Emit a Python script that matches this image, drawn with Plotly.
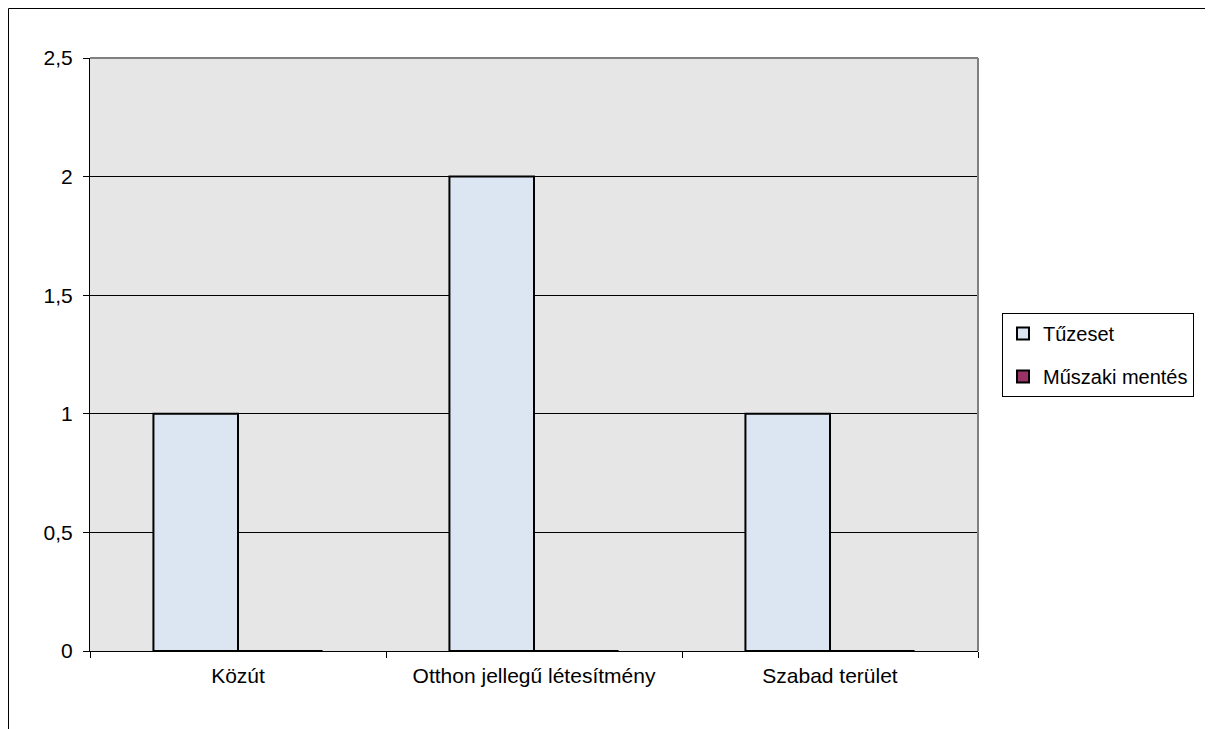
import plotly.graph_objects as go

categories = ["Közút", "Otthon jellegű létesítmény", "Szabad terület"]
tuzeset = [1, 2, 1]
muszaki = [0, 0, 0]
y_ticks = [0, 0.5, 1, 1.5, 2, 2.5]

# page has an 8px body margin; figure size/margins chosen so plot area sits at page x 90-978, y 58-651
OFF = 8
W, H = 1213 - OFF, 729 - OFF
L, T = 90 - OFF, 58 - OFF
pw, ph = 888, 593
R, B = W - L - pw, H - T - ph

fig = go.Figure()
fig.add_trace(go.Bar(name="Tűzeset", x=categories, y=tuzeset, legendgroup="a",
                     marker=dict(color="#dce6f2", line=dict(color="#000000", width=2))))
fig.add_trace(go.Bar(name="Műszaki mentés", x=categories, y=muszaki, legendgroup="b",
                     marker=dict(color="#993366", line=dict(color="#000000", width=2))))

FAM = "Liberation Sans, Arial, sans-serif"

fig.update_layout(
    width=W, height=H,
    margin=dict(l=L, r=R, t=T, b=B),
    paper_bgcolor="#ffffff",
    plot_bgcolor="#e6e6e6",
    barmode="group",
    bargap=0.4286,
    bargroupgap=0,
    separators=", ",
    font=dict(family=FAM, size=21, color="#000000"),
    showlegend=True,
    legend=dict(
        x=(1002 - 90) / pw, y=(651 - 313) / ph, xanchor="left", yanchor="top",
        bordercolor="#000000", borderwidth=1, bgcolor="#ffffff",
        font=dict(family=FAM, size=20, color="#000000"),
        traceorder="grouped", tracegroupgap=14,
        itemwidth=30,
    ),
    xaxis=dict(
        type="category", tickson="boundaries", ticks="outside", ticklen=6,
        tickcolor="#000000", showline=True, linecolor="#000000", linewidth=1,
        showgrid=False, ticklabelstandoff=6,
    ),
    yaxis=dict(
        range=[0, 2.5], tickvals=y_ticks, ticks="outside", ticklen=6,
        tickcolor="#000000", showline=True, linecolor="#000000", linewidth=1,
        showgrid=True, gridcolor="#000000", gridwidth=1, zeroline=False,
        tickformat=".1~f", ticklabelstandoff=6,
    ),
    shapes=[
        dict(type="line", xref="paper", yref="paper", x0=0, x1=1, y0=1, y1=1,
             line=dict(color="#808080", width=2)),
        dict(type="line", xref="paper", yref="paper", x0=1, x1=1, y0=0, y1=1,
             line=dict(color="#808080", width=2)),
        dict(type="line", xref="paper", yref="paper",
             x0=(0.5 - L) / pw, x1=(W - L) / pw, y0=1 + (T - 0.5) / ph, y1=1 + (T - 0.5) / ph,
             line=dict(color="#000000", width=1)),
        dict(type="line", xref="paper", yref="paper",
             x0=(0.5 - L) / pw, x1=(0.5 - L) / pw, y0=1 + (T - 0.5) / ph, y1=-B / ph,
             line=dict(color="#000000", width=1)),
    ],
)

fig.write_html("out.html")
